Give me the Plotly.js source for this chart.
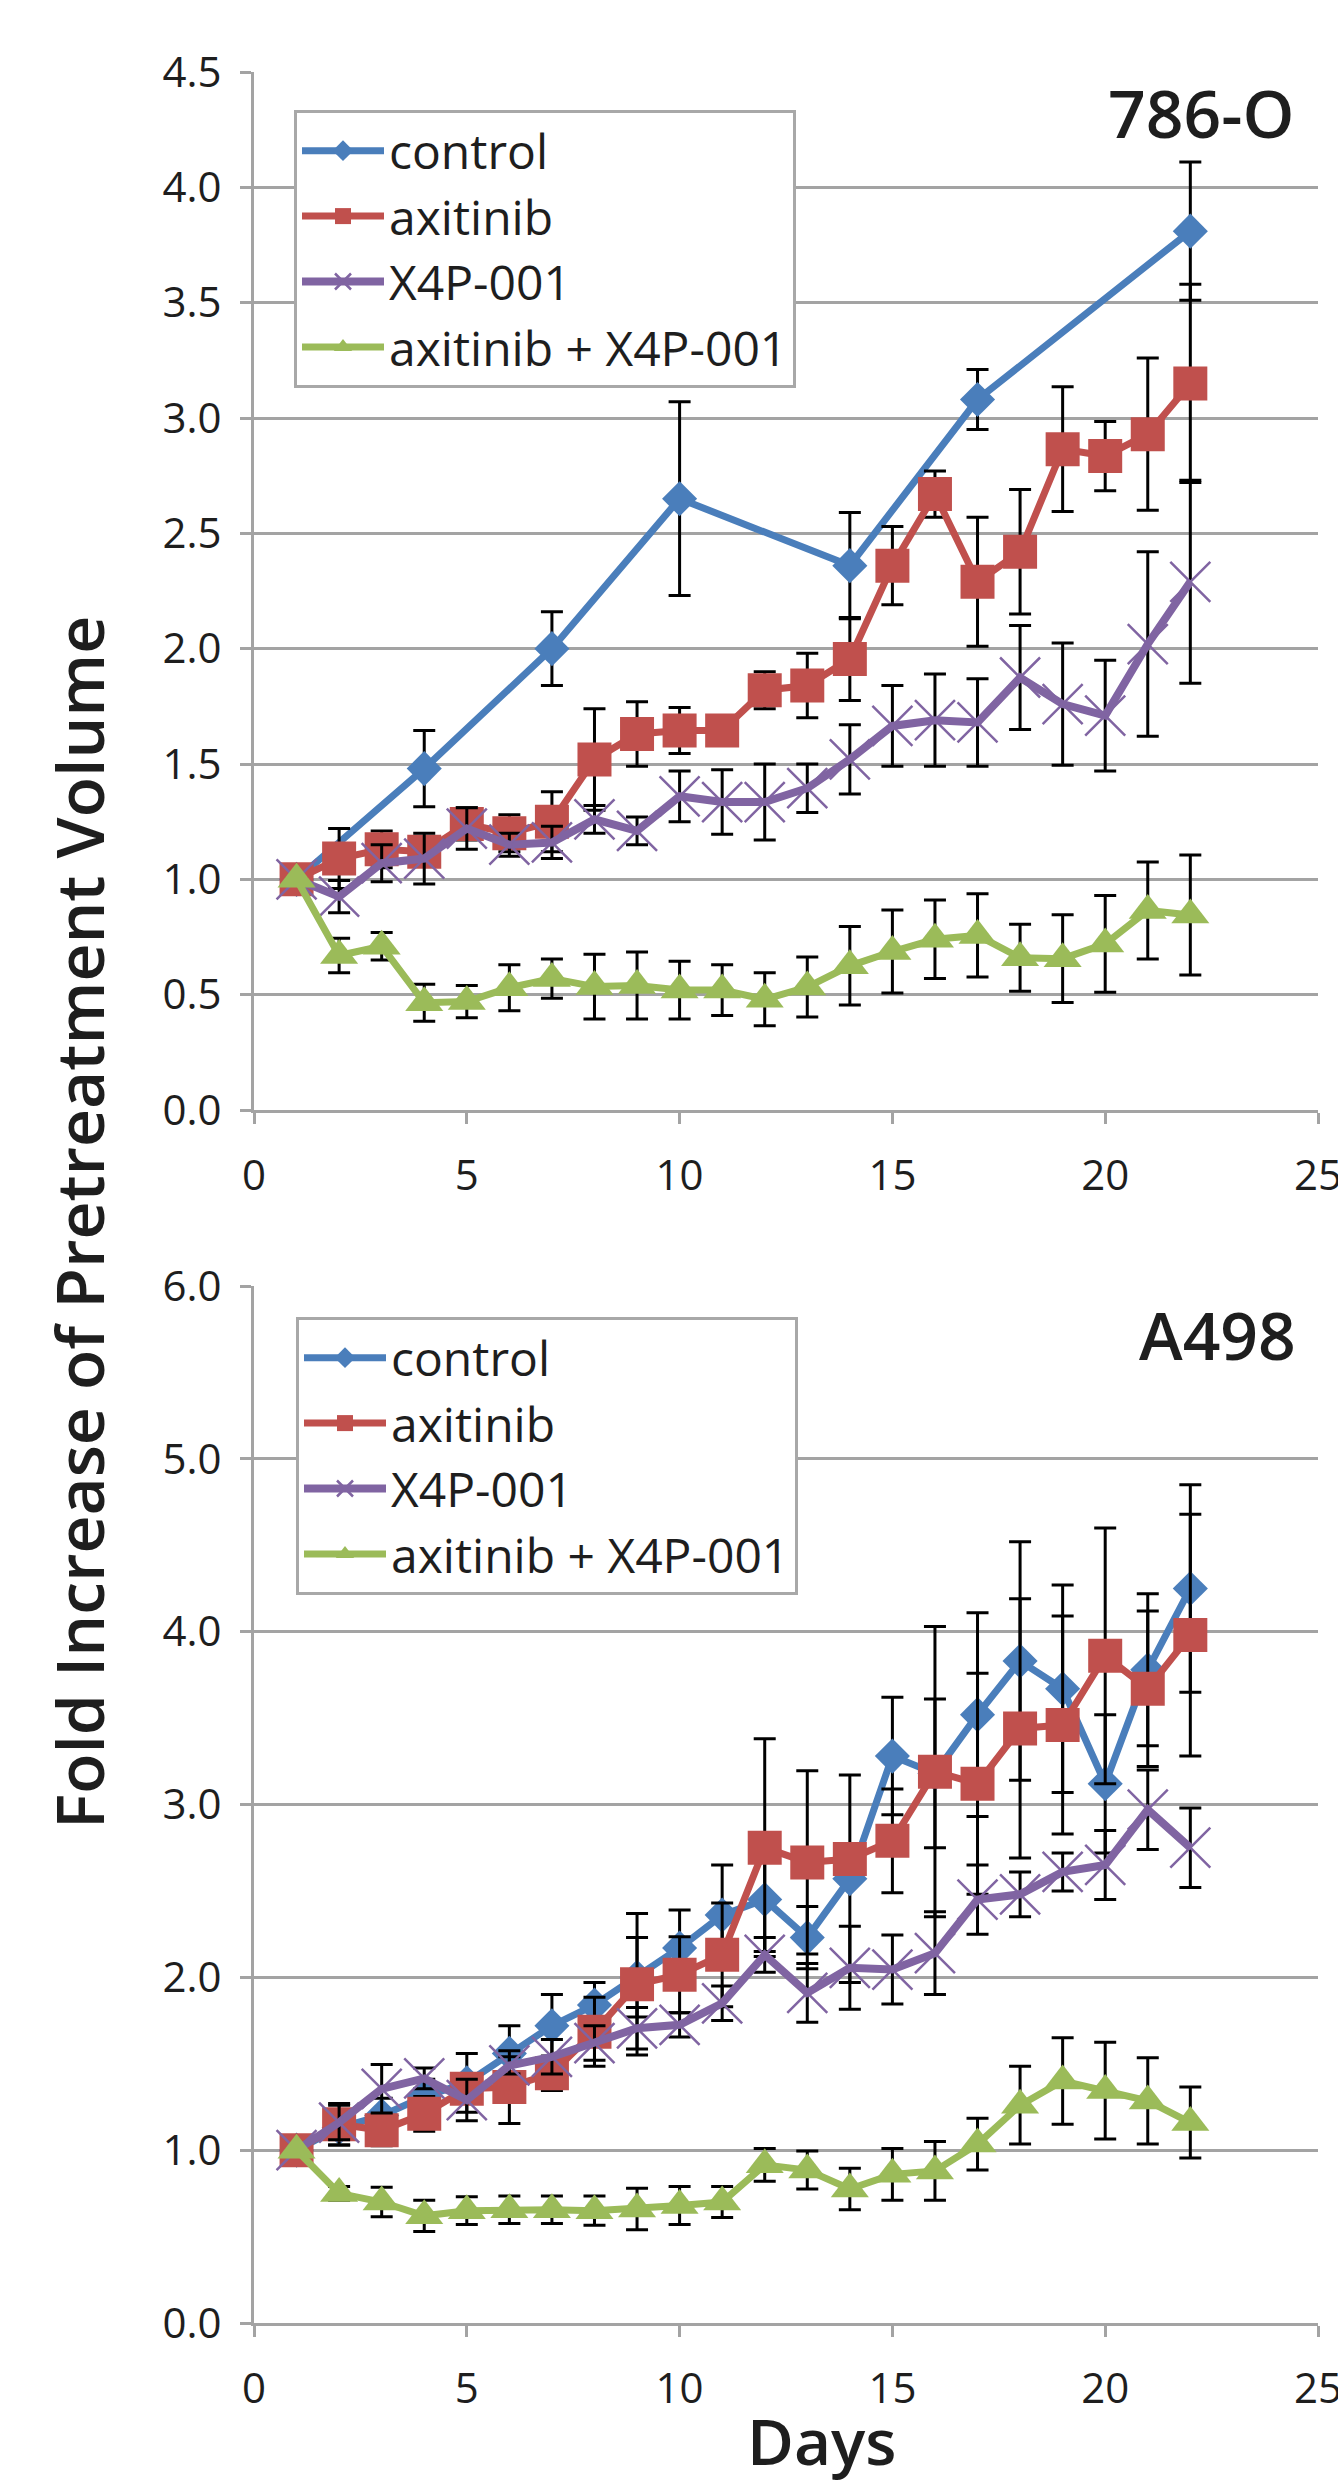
<!DOCTYPE html>
<html>
<head>
<meta charset="utf-8">
<script src="https://cdn.plot.ly/plotly-3.0.1.min.js"></script>
<style>html,body{margin:0;padding:0;background:#fff;}</style>
</head>
<body>
<div id="chart" style="width:1338px;height:2485px;"></div>
<script>
// ---------- data ----------
const days = [1,2,3,4,5,6,7,8,9,10,11,12,13,14,15,16,17,18,19,20,21,22];
const seriesNames = ["control", "axitinib", "X4P-001", "axitinib + X4P-001"];
const xTicks = [0, 5, 10, 15, 20, 25];

// 786-O panel
const ctrlDaysA = [1, 4, 7, 10, 14, 17, 22];
const ctrlA    = [1.0, 1.48, 2.0, 2.65, 2.36, 3.08, 3.81];
const ctrlErrA = [0, 0.165, 0.16, 0.42, 0.23, 0.13, 0.30];
const axiA     = [1.0, 1.09, 1.13, 1.12, 1.24, 1.20, 1.25, 1.52, 1.63, 1.645, 1.645, 1.82, 1.84, 1.955, 2.36, 2.67, 2.29, 2.42, 2.865, 2.835, 2.93, 3.15];
const axiErrA  = [0, 0.13, 0.08, 0.06, 0.07, 0.08, 0.13, 0.22, 0.14, 0.10, 0.03, 0.08, 0.14, 0.18, 0.17, 0.10, 0.28, 0.27, 0.27, 0.15, 0.33, 0.43];
const x4pA     = [1.0, 0.925, 1.07, 1.09, 1.22, 1.15, 1.16, 1.26, 1.21, 1.36, 1.335, 1.335, 1.395, 1.52, 1.665, 1.69, 1.68, 1.875, 1.76, 1.71, 2.02, 2.29];
const x4pErrA  = [0, 0.07, 0.08, 0.11, 0.09, 0.05, 0.07, 0.06, 0.06, 0.11, 0.14, 0.165, 0.105, 0.15, 0.175, 0.20, 0.19, 0.225, 0.265, 0.24, 0.40, 0.44];
const comboA   = [1.0, 0.67, 0.71, 0.465, 0.47, 0.53, 0.57, 0.535, 0.54, 0.52, 0.52, 0.48, 0.533, 0.625, 0.687, 0.74, 0.757, 0.66, 0.656, 0.72, 0.865, 0.845];
const comboErrA= [0, 0.075, 0.06, 0.08, 0.07, 0.10, 0.085, 0.14, 0.145, 0.125, 0.11, 0.115, 0.13, 0.17, 0.18, 0.17, 0.18, 0.145, 0.19, 0.21, 0.21, 0.26];

// A498 panel
const ctrlB    = [1.0, 1.13, 1.2, 1.31, 1.39, 1.56, 1.72, 1.84, 2.0, 2.17, 2.36, 2.45, 2.23, 2.57, 3.28, 3.18, 3.52, 3.83, 3.67, 3.12, 3.78, 4.25];
const ctrlErrB = [0, 0.1, 0.1, 0.1, 0.17, 0.16, 0.18, 0.13, 0.23, 0.22, 0.29, 0.3, 0.18, 0.6, 0.34, 0.43, 0.59, 0.69, 0.60, 0.40, 0.44, 0.60];
const axiB     = [1.0, 1.15, 1.115, 1.21, 1.355, 1.365, 1.445, 1.685, 1.96, 2.015, 2.13, 2.75, 2.665, 2.685, 2.79, 3.19, 3.12, 3.44, 3.46, 3.86, 3.67, 3.98];
const axiErrB  = [0, 0.12, 0.09, 0.1, 0.05, 0.21, 0.1, 0.2, 0.41, 0.22, 0.3, 0.63, 0.53, 0.08, 0.3, 0.84, 0.64, 0.75, 0.63, 0.74, 0.45, 0.70];
const x4pB     = [1.0, 1.16, 1.355, 1.415, 1.29, 1.49, 1.54, 1.62, 1.705, 1.725, 1.85, 2.13, 1.91, 2.055, 2.045, 2.14, 2.45, 2.48, 2.61, 2.65, 2.97, 2.75];
const x4pErrB  = [0, 0.1, 0.14, 0.06, 0.12, 0.05, 0.1, 0.1, 0.12, 0.07, 0.1, 0.1, 0.17, 0.24, 0.2, 0.24, 0.2, 0.13, 0.11, 0.2, 0.23, 0.23];
const comboB   = [1.0, 0.75, 0.70, 0.62, 0.65, 0.655, 0.655, 0.65, 0.66, 0.68, 0.70, 0.915, 0.885, 0.775, 0.86, 0.88, 1.035, 1.26, 1.40, 1.345, 1.285, 1.16];
const comboErrB= [0, 0.04, 0.085, 0.09, 0.08, 0.08, 0.08, 0.085, 0.12, 0.11, 0.09, 0.095, 0.11, 0.12, 0.15, 0.17, 0.15, 0.225, 0.25, 0.28, 0.25, 0.205];

// ---------- styles ----------
const FONT = "Open Sans, Noto Sans, DejaVu Sans, sans-serif";
const TXT = "#1e1e1e";
const GRID = "#a3a3a3";
const colors = ["#4a7ebb", "#c0504d", "#8064a2", "#9bbb59"];
const symbols = ["diamond", "square", "x-thin-open", "triangle-up"];
const msizes = [27, 34, 40, 33];

function mk(i, x, y, err, xa, ya, leg) {
  return {
    type: "scatter", mode: "lines+markers",
    name: seriesNames[i], x: x, y: y,
    xaxis: xa, yaxis: ya, legend: leg,
    line: {color: colors[i], width: i === 2 ? 8 : 7},
    marker: {symbol: symbols[i], size: msizes[i], color: colors[i],
             line: {color: colors[i], width: i === 2 ? 2.5 : 0}},
    error_y: {type: "data", array: err, visible: true, color: "#000", thickness: 3, width: 11},
    hoverinfo: "skip"
  };
}

const traces = [
  mk(0, ctrlDaysA, ctrlA, ctrlErrA, "x", "y", "legend"),
  mk(1, days, axiA, axiErrA, "x", "y", "legend"),
  mk(2, days, x4pA, x4pErrA, "x", "y", "legend"),
  mk(3, days, comboA, comboErrA, "x", "y", "legend"),
  mk(0, days, ctrlB, ctrlErrB, "x2", "y2", "legend2"),
  mk(1, days, axiB, axiErrB, "x2", "y2", "legend2"),
  mk(2, days, x4pB, x4pErrB, "x2", "y2", "legend2"),
  mk(3, days, comboB, comboErrB, "x2", "y2", "legend2")
];

const W = 1338, H = 2485;
const L = 254, R = 20, T = 72, B = 162;
const pw = W - L - R, ph = H - T - B;
const px = v => (v - L) / pw;          // pixel -> paper x
const py = v => (H - B - v) / ph;      // pixel -> paper y

function xax(anchor) {
  return {
    anchor: anchor, domain: [0, 1], range: [0, 25],
    tickvals: xTicks, ticktext: xTicks.map(String),
    showgrid: false, zeroline: false,
    showline: true, linecolor: GRID, linewidth: 3,
    ticks: "outside", ticklen: 11, tickwidth: 3, tickcolor: GRID,
    ticklabelstandoff: 16, ticklabeloverflow: "allow",
    tickfont: {family: FONT, size: 42, color: TXT}
  };
}
function yax(anchor, domain, range, dtick) {
  return {
    anchor: anchor, domain: domain, range: range, dtick: dtick, tick0: 0,
    tickformat: ".1f",
    showgrid: true, gridcolor: GRID, gridwidth: 3,
    zeroline: false,
    showline: true, linecolor: GRID, linewidth: 3,
    ticks: "outside", ticklen: 11, tickwidth: 3, tickcolor: GRID,
    ticklabelstandoff: 10,
    tickfont: {family: FONT, size: 42, color: TXT}
  };
}
function leg(x, y) {
  return {
    x: x, y: y, xanchor: "left", yanchor: "top",
    bgcolor: "#ffffff", bordercolor: "#a8a8a8", borderwidth: 3,
    font: {family: FONT, size: 48, color: TXT},
    itemwidth: 82, tracegroupgap: 0
  };
}

const layout = {
  width: W, height: H,
  margin: {l: L, r: R, t: T, b: B},
  paper_bgcolor: "#fff", plot_bgcolor: "#fff",
  font: {family: FONT, color: TXT},
  showlegend: true,
  xaxis: xax("y"),
  yaxis: yax("x", [py(1110), 1], [0, 4.5], 0.5),
  xaxis2: xax("y2"),
  yaxis2: yax("x2", [0, py(1286)], [0, 6], 1),
  legend: leg(px(294), py(110)),
  legend2: leg(px(296), py(1317)),
  annotations: [
    {text: "786-O", xref: "paper", yref: "paper", x: px(1296), y: py(112),
     xanchor: "right", yanchor: "middle", showarrow: false,
     font: {family: FONT, size: 66, color: TXT, weight: 600}},
    {text: "A498", xref: "paper", yref: "paper", x: px(1298), y: py(1334),
     xanchor: "right", yanchor: "middle", showarrow: false,
     font: {family: FONT, size: 66, color: TXT, weight: 600}},
    {text: "Fold Increase of Pretreatment Volume", xref: "paper", yref: "paper",
     x: px(78), y: py(1223), textangle: -90, xanchor: "center", yanchor: "middle",
     showarrow: false, font: {family: FONT, size: 66, color: TXT, weight: 600}},
    {text: "Days", xref: "paper", yref: "paper", x: px(821), y: py(2440),
     xanchor: "center", yanchor: "middle", showarrow: false,
     font: {family: FONT, size: 64, color: TXT, weight: 600}}
  ]
};

Plotly.newPlot("chart", traces, layout, {staticPlot: true, displayModeBar: false});
</script>
</body>
</html>
